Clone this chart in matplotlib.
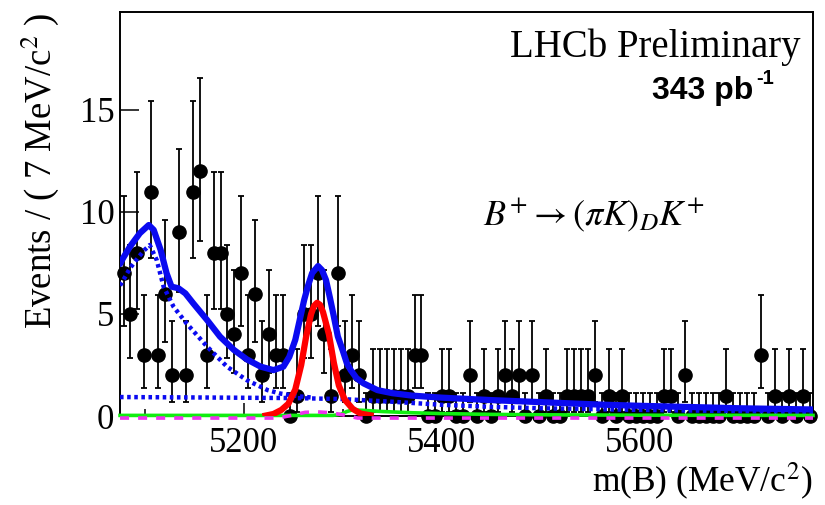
import numpy as np
import matplotlib.pyplot as plt

plt.rcParams['font.family'] = 'Liberation Serif'
plt.rcParams['mathtext.fontset'] = 'stix'

# B+ -> (pi K)_D K+ mass fit, 7 MeV bins from 5075 to 5775
m_lo, m_hi, bin_w = 5075, 5775, 7
counts = [7, 5, 8, 3, 11, 3, 6, 2, 9, 2,
          11, 12, 3, 8, 8, 5, 4, 7, 3, 6,
          2, 4, 3, 3, 0, 1, 5, 5, 7, 4,
          1, 7, 2, 3, 2, 0, 1, 1, 1, 1,
          1, 1, 3, 3, 0, 0, 1, 1, 0, 0,
          2, 0, 1, 0, 1, 2, 1, 2, 0, 2,
          0, 1, 0, 0, 1, 1, 1, 1, 2, 0,
          1, 0, 1, 0, 0, 0, 0, 0, 1, 1,
          0, 2, 0, 0, 0, 0, 0, 1, 0, 0,
          0, 0, 3, 0, 1, 0, 1, 0, 1, 0]

# Poisson 68% interval (lower / upper) for n = 0..12
poi_lo = [0.0, 0.827, 1.292, 1.633, 1.914, 2.159, 2.380, 2.581, 2.768, 2.943, 3.108, 3.266, 3.416]
poi_hi = [1.148, 2.299, 2.637, 2.918, 3.162, 3.382, 3.583, 3.770, 3.944, 4.110, 4.266, 4.416, 4.559]

# fit curves
tot_m = [5075, 5077, 5085, 5095, 5104, 5109, 5116, 5122, 5127, 5134, 5141, 5149, 5163,
         5176, 5190, 5203, 5217, 5230, 5240, 5246, 5252, 5256, 5261, 5265, 5269, 5275,
         5279, 5283, 5287, 5291, 5295, 5300, 5304, 5308, 5314, 5321, 5335, 5350, 5370,
         5400, 5450, 5500, 5560, 5600, 5660, 5700, 5775]
tot_y = [7.45, 7.65, 8.3, 8.96, 9.36, 9.12, 8.14, 7.0, 6.34, 6.26, 6.01, 5.52, 4.7,
         3.89, 3.24, 2.78, 2.42, 2.25, 2.42, 2.9, 3.73, 4.6, 5.69, 6.4, 7.0, 7.35,
         7.15, 6.67, 5.8, 4.87, 3.9, 3.2, 2.6, 2.25, 1.85, 1.6, 1.27, 1.12, 1.0,
         0.9, 0.78, 0.68, 0.56, 0.5, 0.43, 0.38, 0.32]

bkg_m = [5075, 5077, 5085, 5094, 5100, 5105, 5112, 5119, 5129, 5142, 5163, 5183, 5203,
         5224, 5237, 5255, 5270]
bkg_y = [6.4, 6.55, 7.24, 7.81, 8.15, 8.38, 7.65, 6.34, 5.36, 4.55, 3.4, 2.42, 1.76,
         1.27, 1.1, 0.97, 0.9]

comb_m = [5075, 5150, 5250, 5300, 5350, 5400, 5450, 5500, 5600, 5700, 5775]
comb_y = [0.93, 0.91, 0.88, 0.83, 0.7, 0.55, 0.45, 0.38, 0.3, 0.24, 0.2]

sig_m = [5222, 5230, 5238, 5245, 5252, 5258, 5263, 5268, 5271, 5274, 5277, 5280, 5286,
         5291, 5296, 5302, 5310, 5318, 5328]
sig_y = [0.02, 0.1, 0.3, 0.6, 1.3, 2.5, 3.9, 5.0, 5.4, 5.55, 5.45, 5.1, 4.0,
         2.6, 1.5, 0.8, 0.35, 0.12, 0.03]

misid_m = [5075, 5290, 5298, 5304, 5310, 5320, 5340, 5370, 5400, 5450, 5500, 5600, 5775]
misid_y = [0.03, 0.03, 0.08, 0.22, 0.3, 0.28, 0.22, 0.16, 0.12, 0.08, 0.06, 0.04, 0.03]

other_m = [5075, 5235, 5250, 5262, 5275, 5288, 5300, 5315, 5775]
other_y = [-0.1, -0.1, 0.05, 0.18, 0.2, 0.16, 0.06, -0.1, -0.1]

centers = np.arange(len(counts)) * bin_w + m_lo + bin_w / 2
n = np.array(counts)
err = [np.array(poi_lo)[n], np.array(poi_hi)[n]]

fig = plt.figure(figsize=(8.25, 5.05), dpi=100)
ax = fig.add_axes([0.1455, 0.1762, 0.84, 0.80])

eb = ax.errorbar(centers, n, yerr=err, fmt='o', color='k', ms=9.5,
                 elinewidth=1.3, capsize=2.5, capthick=1.3, zorder=3)
eb[0].set_clip_on(False)
for a in eb[1]:
    a.set_clip_on(False)
for a in eb[2]:
    a.set_clip_on(False)

blue = '#0a0af0'
ax.plot(tot_m, tot_y, color=blue, lw=4.5, zorder=4, solid_capstyle='round')
ax.plot(bkg_m, bkg_y, color=blue, lw=3.2, ls=(0, (0.8, 0.8)), zorder=5)
ax.plot(comb_m, comb_y, color=blue, lw=3.2, ls=(0, (0.8, 0.8)), zorder=5)
ax.plot(misid_m, misid_y, color='#11ee11', lw=2.6, zorder=6, clip_on=False)
ax.plot(other_m, other_y, color='#ee33ee', lw=2.6, ls=(0, (2.5, 2.5)), zorder=7, clip_on=False)
ax.plot(sig_m, sig_y, color='#ff0000', lw=4.5, zorder=8)

ax.set_xlim(m_lo, m_hi)
ax.set_ylim(0, 19.8)
ax.set_xticks([5200, 5400, 5600])
ax.set_xticks([5100, 5300, 5500, 5700], minor=True)
ax.set_yticks([0, 5, 10, 15])
ax.tick_params(axis='both', which='both', direction='in', labelsize=25, width=1.1)
ax.tick_params(axis='x', which='major', length=9.5, pad=8)
ax.tick_params(axis='x', which='minor', length=5)
ax.tick_params(axis='y', which='major', length=13.5, pad=4)
for s in ax.spines.values():
    s.set_linewidth(1.4)

fig.text(40 / 825, 1 - 13 / 505, 'Events / ( 7 MeV/c$^{2}$ )', rotation=90,
         ha='center', va='top', fontsize=26.5)
fig.text(812 / 825, 1 - 492 / 505, 'm(B) (MeV/c$^{2}$)', ha='right', va='baseline',
         fontsize=25.5)
fig.text(800 / 825, 1 - 57 / 505, 'LHCb Preliminary', ha='right', va='baseline',
         fontsize=28)
fig.text(753 / 825, 1 - 99 / 505, '343 pb', ha='right', va='baseline', fontsize=23,
         family='Liberation Sans', weight='bold')
fig.text(756 / 825, 1 - 84 / 505, '-1', ha='left', va='baseline', fontsize=14.5,
         family='Liberation Sans', weight='bold')
fig.text(483 / 825, 1 - 225 / 505, r'$B^{+}\rightarrow(\pi K)_{D}K^{+}$', ha='left',
         va='baseline', fontsize=26)

fig.savefig('out.png', dpi=100)
